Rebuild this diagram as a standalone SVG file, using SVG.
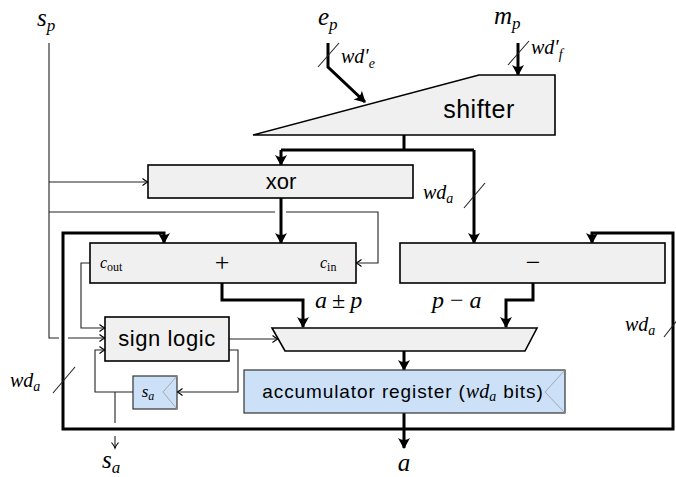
<svg xmlns="http://www.w3.org/2000/svg" width="676" height="477" viewBox="0 0 676 477">
<style>
.box{fill:#f0f0f0;stroke:#000;stroke-width:1.6}
.blue{fill:#cce0f8;stroke:#333;stroke-width:1.2}
.clk{fill:none;stroke:#999;stroke-width:0.8}
.thick{fill:none;stroke:#000;stroke-width:3;stroke-linejoin:miter}
.thin{fill:none;stroke:#222;stroke-width:1.1}
.m{font-family:"Liberation Serif","DejaVu Serif",serif;font-style:italic;fill:#000}
.r{font-family:"Liberation Serif","DejaVu Serif",serif;fill:#000}
.s{font-family:"Liberation Sans","DejaVu Sans",sans-serif;fill:#000}
</style>
<defs>
<marker id="ah" viewBox="-12 -8 14 16" markerWidth="14" markerHeight="16" refX="0" refY="0" orient="auto" markerUnits="userSpaceOnUse">
<path d="M1,0 L-10,-6 Q-6,0 -10,6 Z" fill="#000"/>
</marker>
<marker id="at" viewBox="-8 -5 10 10" markerWidth="10" markerHeight="10" refX="0" refY="0" orient="auto" markerUnits="userSpaceOnUse">
<path d="M-5.5,-3.5 Q-2,-0.6 0,0 Q-2,0.6 -5.5,3.5" fill="none" stroke="#000" stroke-width="1.1"/>
</marker>
</defs>

<g id="connectors">
<!-- inputs -->
<path class="thick" d="M328,43 V67 L365,102" marker-end="url(#ah)"/>
<line class="thin" x1="318" y1="67" x2="339" y2="43"/>
<path class="thick" d="M518,43 V75" marker-end="url(#ah)"/>
<line class="thin" x1="508" y1="65" x2="529" y2="41"/>
<!-- shifter output -->
<path class="thick" d="M404,135 V150"/>
<path class="thick" d="M281,150 H474"/>
<path class="thick" d="M281,150 V165" marker-end="url(#ah)"/>
<path class="thick" d="M474,150 V243" marker-end="url(#ah)"/>
<line class="thin" x1="464" y1="208" x2="485" y2="183"/>
<!-- xor output -->
<path class="thick" d="M281,198 V243" marker-end="url(#ah)"/>
<!-- s_p -->
<path class="thin" d="M49,43 V338 H59"/>
<path class="thin" d="M49,182 H148" marker-end="url(#at)"/>
<path class="thin" d="M49,212 H275"/>
<path class="thin" d="M286,212 H378 V263 H356" marker-end="url(#at)"/>
<path class="thin" d="M68,338 H105" marker-end="url(#at)"/>
<!-- feedback frame -->
<path class="thick" d="M404,429 H63 V233 H164 V243" marker-end="url(#ah)"/>
<path class="thick" d="M404,429 H673 V233 H592 V243" marker-end="url(#ah)"/>
<line class="thin" x1="53" y1="393" x2="75" y2="367"/>
<line class="thin" x1="664" y1="337" x2="682" y2="314"/>
<!-- adder / subtractor outputs -->
<path class="thick" d="M222,283 V300 H303 V327" marker-end="url(#ah)"/>
<path class="thick" d="M533,283 V300 H506 V327" marker-end="url(#ah)"/>
<path class="thick" d="M404,351 V370" marker-end="url(#ah)"/>
<path class="thick" d="M404,413 V448" marker-end="url(#ah)"/>
<!-- sign logic wiring -->
<path class="thin" d="M90,263 H81 V328 H105" marker-end="url(#at)"/>
<path class="thin" d="M229,339 H278" marker-end="url(#at)"/>
<path class="thin" d="M229,350 H238 V392 H177" marker-end="url(#at)"/>
<path class="thin" d="M133,392 H95 V350 H105" marker-end="url(#at)"/>
<path class="thin" d="M115,392 V423"/>
<path class="thin" d="M115,436 V448" marker-end="url(#at)"/>
</g>

<g id="shifter">
<polygon class="box" points="253,135 479,75 555,75 555,135"/>
<text class="s" x="479" y="118" font-size="25" text-anchor="middle" letter-spacing="0.5">shifter</text>
</g>

<g id="xor">
<rect class="box" x="148" y="165" width="265" height="33"/>
<text class="s" x="281" y="189" font-size="22" text-anchor="middle">xor</text>
</g>

<g id="adder">
<rect class="box" x="90" y="243" width="266" height="40"/>
<text class="m" x="100" y="268" font-size="16">c<tspan class="r" font-style="normal" font-size="12" dy="3">out</tspan></text>
<text class="r" x="222" y="271" font-size="26" text-anchor="middle">+</text>
<text class="m" x="320" y="268" font-size="16">c<tspan class="r" font-style="normal" font-size="12" dy="3">in</tspan></text>
</g>

<g id="subtractor">
<rect class="box" x="400" y="243" width="265" height="40"/>
<text class="r" x="533" y="271" font-size="26" text-anchor="middle">−</text>
</g>

<g id="mux">
<polygon class="box" points="272,328 537,328 525,351 285,351"/>
</g>

<g id="sign-logic">
<rect class="box" x="105" y="317" width="124" height="44"/>
<text class="s" x="167" y="346" font-size="22" text-anchor="middle" letter-spacing="0.6">sign logic</text>
</g>

<g id="sa-register">
<rect class="blue" x="133" y="376" width="44" height="33"/>
<path class="clk" d="M177,376 L163,392 L177,409"/>
<text class="m" x="148" y="397" font-size="17" text-anchor="middle">s<tspan font-size="12" dy="3">a</tspan></text>
</g>

<g id="accumulator">
<rect class="blue" x="244" y="370" width="321" height="43"/>
<path class="clk" d="M565,370 L545,392 L565,413"/>
<text class="s" x="403" y="398" font-size="19" text-anchor="middle" letter-spacing="0.9">accumulator register (<tspan class="m" font-size="20" letter-spacing="0">wd</tspan><tspan class="m" font-size="14" dy="3">a</tspan><tspan dy="-3"> bits)</tspan></text>
</g>

<g id="labels">
<text class="m" x="37" y="26" font-size="25">s<tspan font-size="17" dy="5">p</tspan></text>
<text class="m" x="318" y="25" font-size="25">e<tspan font-size="17" dy="5">p</tspan></text>
<text class="m" x="494" y="24" font-size="25">m<tspan font-size="17" dy="5">p</tspan></text>
<text class="m" x="341" y="63" font-size="20">wd′<tspan font-size="14" dy="5">e</tspan></text>
<text class="m" x="531" y="54" font-size="20">wd′<tspan font-size="14" dy="5">f</tspan></text>
<text class="m" x="423" y="199" font-size="20">wd<tspan font-size="14" dy="4">a</tspan></text>
<text class="m" x="10" y="387" font-size="20">wd<tspan font-size="14" dy="4">a</tspan></text>
<text class="m" x="625" y="331" font-size="20">wd<tspan font-size="14" dy="4">a</tspan></text>
<text class="m" x="315" y="308" font-size="24">a<tspan class="r" font-style="normal" dx="5">±</tspan><tspan dx="5">p</tspan></text>
<text class="m" x="432" y="308" font-size="24">p<tspan class="r" font-style="normal" dx="6">−</tspan><tspan dx="6">a</tspan></text>
<text class="m" x="404" y="471" font-size="25" text-anchor="middle">a</text>
<text class="m" x="102" y="468" font-size="25">s<tspan font-size="17" dy="5">a</tspan></text>
</g>
</svg>
